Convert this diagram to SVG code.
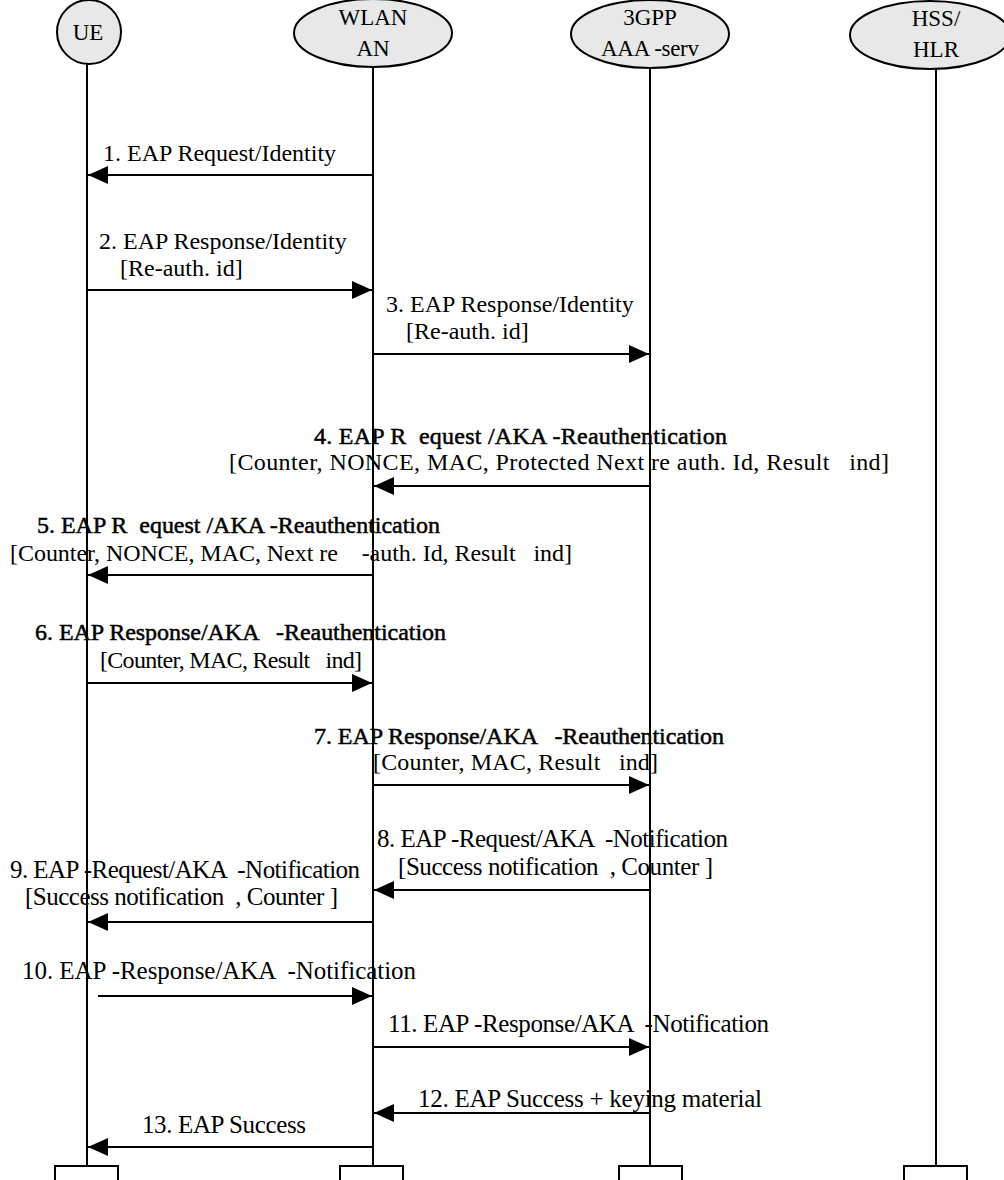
<svg xmlns="http://www.w3.org/2000/svg" width="1004" height="1180" viewBox="0 0 1004 1180" xml:space="preserve">
<style>
.lbl{font-family:"Liberation Serif","Times New Roman",serif;font-size:24px;fill:#000;white-space:pre}
.c{font-size:25px}
.b{stroke:#000;stroke-width:0.5}
.hdr{font-family:"Liberation Serif","Times New Roman",serif;font-size:23px;fill:#000;text-anchor:middle}
.ell{fill:#e8e8e8;stroke:#000;stroke-width:2}
.life{stroke:#000;stroke-width:2;fill:none}
.box{fill:#fff;stroke:#000;stroke-width:2}
.msg{stroke:#000;stroke-width:2;fill:none;marker-end:url(#ah)}
</style>
<defs>
<marker id="ah" viewBox="0 0 20 18" refX="20" refY="9" markerWidth="20" markerHeight="18" markerUnits="userSpaceOnUse" orient="auto">
<path d="M0,0 L20,9 L0,18 Z" fill="#000"/>
</marker>
</defs>
<rect width="1004" height="1180" fill="#fff"/>
<g id="UE">
<line class="life" x1="87" y1="64" x2="87" y2="1166"/>
<ellipse class="ell" cx="89" cy="32" rx="32" ry="32"/>
<text class="hdr" x="88" y="40">UE</text>
<rect class="box" x="55" y="1166" width="63" height="20"/>
</g>
<g id="WLAN">
<line class="life" x1="373" y1="67" x2="373" y2="1166"/>
<ellipse class="ell" cx="373" cy="33" rx="79" ry="34"/>
<text class="hdr" x="373" y="25">WLAN</text>
<text class="hdr" x="373" y="56">AN</text>
<rect class="box" x="340" y="1166" width="63" height="20"/>
</g>
<g id="AAA">
<line class="life" x1="650" y1="68" x2="650" y2="1166"/>
<ellipse class="ell" cx="650" cy="34" rx="79" ry="34"/>
<text class="hdr" x="650" y="25">3GPP</text>
<text class="hdr" x="650" y="56" textLength="98">AAA -serv</text>
<rect class="box" x="619" y="1166" width="63" height="20"/>
</g>
<g id="HSS">
<line class="life" x1="936" y1="69" x2="936" y2="1166"/>
<ellipse class="ell" cx="930" cy="35" rx="80" ry="34"/>
<text class="hdr" x="936" y="26">HSS/</text>
<text class="hdr" x="936" y="57">HLR</text>
<rect class="box" x="904" y="1166" width="63" height="20"/>
</g>
<g id="connectors">
<line class="msg" x1="373" y1="175" x2="88" y2="175"/>
<line class="msg" x1="88" y1="290" x2="372" y2="290"/>
<line class="msg" x1="374" y1="354" x2="649" y2="354"/>
<line class="msg" x1="649" y1="486" x2="374" y2="486"/>
<line class="msg" x1="372" y1="575" x2="88" y2="575"/>
<line class="msg" x1="88" y1="683" x2="372" y2="683"/>
<line class="msg" x1="374" y1="785" x2="649" y2="785"/>
<line class="msg" x1="649" y1="890" x2="374" y2="890"/>
<line class="msg" x1="372" y1="922" x2="88" y2="922"/>
<line class="msg" x1="98" y1="996" x2="372" y2="996"/>
<line class="msg" x1="374" y1="1047" x2="649" y2="1047"/>
<line class="msg" x1="649" y1="1113" x2="374" y2="1113"/>
<line class="msg" x1="372" y1="1147" x2="88" y2="1147"/>
</g>
<g id="labels">
<text class="lbl" x="103" y="161">1. EAP Request/Identity</text>
<text class="lbl" x="99" y="249">2. EAP Response/Identity</text>
<text class="lbl" x="120" y="276">[Re-auth. id]</text>
<text class="lbl" x="386" y="312">3. EAP Response/Identity</text>
<text class="lbl" x="406" y="339">[Re-auth. id]</text>
<text class="lbl b" x="314" y="444" textLength="413">4. EAP R  equest /AKA -Reauthentication</text>
<text class="lbl" x="229" y="470" textLength="660">[Counter, NONCE, MAC, Protected Next re auth. Id, Result   ind]</text>
<text class="lbl b" x="37" y="533" textLength="403">5. EAP R  equest /AKA -Reauthentication</text>
<text class="lbl" x="10" y="561" textLength="562">[Counter, NONCE, MAC, Next re    -auth. Id, Result   ind]</text>
<text class="lbl b" x="35" y="640" textLength="411">6. EAP Response/AKA   -Reauthentication</text>
<text class="lbl" x="100" y="668" textLength="262">[Counter, MAC, Result   ind]</text>
<text class="lbl b" x="314" y="744" textLength="410">7. EAP Response/AKA   -Reauthentication</text>
<text class="lbl" x="373" y="770" textLength="285">[Counter, MAC, Result   ind]</text>
<text class="lbl c" x="377" y="847" textLength="351">8. EAP -Request/AKA  -Notification</text>
<text class="lbl c" x="398" y="875" textLength="315">[Success notification  , Counter ]</text>
<text class="lbl c" x="10" y="878" textLength="350">9. EAP -Request/AKA  -Notification</text>
<text class="lbl c" x="25" y="905" textLength="313">[Success notification  , Counter ]</text>
<text class="lbl c" x="22" y="979" textLength="394">10. EAP -Response/AKA  -Notification</text>
<text class="lbl c" x="388" y="1032" textLength="381">11. EAP -Response/AKA  -Notification</text>
<text class="lbl c" x="418" y="1107" textLength="344">12. EAP Success + keying material</text>
<text class="lbl c" x="142" y="1133" textLength="164">13. EAP Success</text>
</g>
</svg>
